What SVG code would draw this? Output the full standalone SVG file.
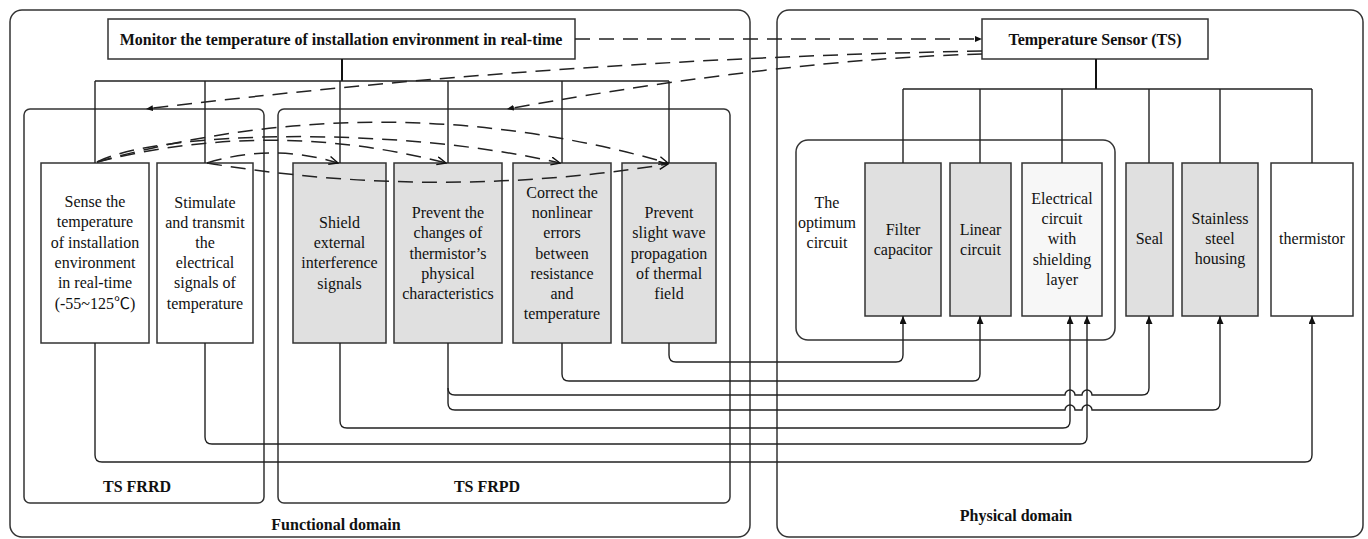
<svg xmlns="http://www.w3.org/2000/svg" width="1368" height="539" viewBox="0 0 1368 539">
  <style>
    .frame { fill: none; stroke: #333; stroke-width: 1.5; }
    .box { stroke: #333; stroke-width: 1.5; }
    .white { fill: #ffffff; }
    .grey { fill: #e0e0e0; }
    .light { fill: #f7f7f7; }
    .txt { font-family: "Liberation Serif", "Times New Roman", "Noto Sans CJK SC", serif; font-size: 16px; fill: #111; text-anchor: middle; }
    .bold { font-weight: bold; }
    .wire { fill: none; stroke: #222; stroke-width: 1.4; }
    .stem { fill: none; stroke: #111; stroke-width: 2; }
    .dash { fill: none; stroke: #222; stroke-width: 1.5; stroke-dasharray: 15 9; }
  </style>
  <defs>
    <marker id="tri" markerUnits="userSpaceOnUse" markerWidth="8" markerHeight="8" refX="8" refY="3.5" orient="auto">
      <path d="M0,0 L8,3.5 L0,7 z" fill="#111"/>
    </marker>
    <marker id="triSmall" markerUnits="userSpaceOnUse" markerWidth="7" markerHeight="6" refX="7" refY="3" orient="auto">
      <path d="M0,0 L7,3 L0,6 z" fill="#111"/>
    </marker>
    <marker id="vee" markerUnits="userSpaceOnUse" markerWidth="11" markerHeight="10" refX="9.5" refY="4.5" orient="auto">
      <path d="M0.5,0.5 L9.5,4.5 L0.5,8.5" fill="none" stroke="#111" stroke-width="1.4"/>
    </marker>
  </defs>

  <rect width="1368" height="539" fill="#ffffff"/>

  <!-- domain frames and FR groups -->
  <g id="functional-domain">
    <rect class="frame" x="10" y="10" width="740" height="527" rx="12"/>
    <text class="txt bold" x="336" y="530">Functional domain</text>
  </g>
  <g id="physical-domain">
    <rect class="frame" x="777" y="10" width="586" height="527" rx="12"/>
    <text class="txt bold" x="1016" y="521">Physical domain</text>
  </g>
  <g id="ts-frrd">
    <rect class="frame" x="24" y="109" width="240" height="394" rx="6"/>
    <text class="txt bold" x="137" y="492">TS FRRD</text>
  </g>
  <g id="ts-frpd">
    <rect class="frame" x="278" y="109" width="452" height="394" rx="6"/>
    <text class="txt bold" x="487" y="492">TS FRPD</text>
  </g>
  <g id="optimum-circuit">
    <rect class="frame" x="796" y="140" width="319" height="200" rx="12"/>
    <text class="txt" x="827"><tspan x="827" y="208">The</tspan><tspan x="827" y="228">optimum</tspan><tspan x="827" y="248">circuit</tspan></text>
  </g>

  <!-- top-level nodes -->
  <g id="monitor">
    <rect class="box white" x="108" y="19" width="467" height="40"/>
    <text class="txt bold" x="341" y="45">Monitor the temperature of installation environment in real-time</text>
  </g>
  <g id="sensor">
    <rect class="box white" x="982" y="19" width="226" height="40"/>
    <text class="txt bold" x="1095" y="45">Temperature Sensor (TS)</text>
  </g>

  <!-- functional requirements -->
  <g id="fr-sense">
    <rect class="box white" x="41" y="163" width="108" height="180"/>
    <text class="txt"><tspan x="95" y="207">Sense the</tspan><tspan x="95" y="227">temperature</tspan><tspan x="95" y="248">of installation</tspan><tspan x="95" y="268">environment</tspan><tspan x="95" y="288">in real-time</tspan><tspan x="95" y="309">(-55~125℃)</tspan></text>
  </g>
  <g id="fr-stimulate">
    <rect class="box white" x="157" y="163" width="96" height="180"/>
    <text class="txt"><tspan x="205" y="208">Stimulate</tspan><tspan x="205" y="228">and transmit</tspan><tspan x="205" y="248">the</tspan><tspan x="205" y="268">electrical</tspan><tspan x="205" y="288">signals of</tspan><tspan x="205" y="309">temperature</tspan></text>
  </g>
  <g id="fr-shield">
    <rect class="box grey" x="293" y="163" width="93" height="180"/>
    <text class="txt"><tspan x="339.5" y="228">Shield</tspan><tspan x="339.5" y="248">external</tspan><tspan x="339.5" y="268">interference</tspan><tspan x="339.5" y="289">signals</tspan></text>
  </g>
  <g id="fr-prevent-changes">
    <rect class="box grey" x="394" y="163" width="108" height="180"/>
    <text class="txt"><tspan x="448" y="218">Prevent the</tspan><tspan x="448" y="238">changes of</tspan><tspan x="448" y="259">thermistor’s</tspan><tspan x="448" y="279">physical</tspan><tspan x="448" y="299">characteristics</tspan></text>
  </g>
  <g id="fr-correct">
    <rect class="box grey" x="513" y="163" width="98" height="180"/>
    <text class="txt"><tspan x="562" y="198">Correct the</tspan><tspan x="562" y="218">nonlinear</tspan><tspan x="562" y="238">errors</tspan><tspan x="562" y="259">between</tspan><tspan x="562" y="279">resistance</tspan><tspan x="562" y="299">and</tspan><tspan x="562" y="319">temperature</tspan></text>
  </g>
  <g id="fr-prevent-wave">
    <rect class="box grey" x="622" y="163" width="94" height="180"/>
    <text class="txt"><tspan x="669" y="218">Prevent</tspan><tspan x="669" y="238">slight wave</tspan><tspan x="669" y="259">propagation</tspan><tspan x="669" y="279">of thermal</tspan><tspan x="669" y="299">field</tspan></text>
  </g>

  <!-- design parameters -->
  <g id="dp-filter">
    <rect class="box grey" x="865" y="163" width="76" height="153"/>
    <text class="txt"><tspan x="903" y="235">Filter</tspan><tspan x="903" y="255">capacitor</tspan></text>
  </g>
  <g id="dp-linear">
    <rect class="box grey" x="950" y="163" width="61" height="153"/>
    <text class="txt"><tspan x="980.5" y="235">Linear</tspan><tspan x="980.5" y="255">circuit</tspan></text>
  </g>
  <g id="dp-shielding">
    <rect class="box light" x="1022" y="163" width="80" height="153"/>
    <text class="txt"><tspan x="1062" y="204">Electrical</tspan><tspan x="1062" y="224">circuit</tspan><tspan x="1062" y="244">with</tspan><tspan x="1062" y="265">shielding</tspan><tspan x="1062" y="285">layer</tspan></text>
  </g>
  <g id="dp-seal">
    <rect class="box grey" x="1126" y="163" width="47" height="153"/>
    <text class="txt" x="1149.5" y="244">Seal</text>
  </g>
  <g id="dp-housing">
    <rect class="box grey" x="1182" y="163" width="76" height="153"/>
    <text class="txt"><tspan x="1220" y="224">Stainless</tspan><tspan x="1220" y="244">steel</tspan><tspan x="1220" y="264">housing</tspan></text>
  </g>
  <g id="dp-thermistor">
    <rect class="box white" x="1271" y="163" width="82" height="153"/>
    <text class="txt" x="1312" y="244">thermistor</text>
  </g>

  <g id="connectors">
    <!-- decomposition trees -->
    <path class="stem" d="M342,59 V81"/>
    <path class="wire" d="M95,81 H669 M95,81 V163 M205,81 V163 M340,81 V163 M448,81 V163 M562,81 V163 M669,81 V163"/>
    <path class="stem" d="M1096,59 V89"/>
    <path class="wire" d="M903,89 H1312 M903,89 V163 M980,89 V163 M1062,89 V163 M1149,89 V163 M1220,89 V163 M1312,89 V163"/>

    <!-- FR to DP mapping -->
    <path class="wire" marker-end="url(#tri)" d="M95,343 V455 Q95,462 102,462 H1305 Q1312,462 1312,455 V316"/>
    <path class="wire" marker-end="url(#tri)" d="M205,343 V437 Q205,444 212,444 H1080 Q1087,444 1087,437 V316"/>
    <path class="wire" marker-end="url(#tri)" d="M340,343 V421 Q340,428 347,428 H1063 Q1070,428 1070,421 V316"/>
    <path class="wire" marker-end="url(#tri)" d="M448,343 V388 Q448,395 455,395 H1065 A5,5 0 0 1 1075,395 H1082 A5,5 0 0 1 1092,395 H1142 Q1149,395 1149,388 V316"/>
    <path class="wire" marker-end="url(#tri)" d="M448,388 V403 Q448,410 455,410 H1065 A5,5 0 0 1 1075,410 H1082 A5,5 0 0 1 1092,410 H1213 Q1220,410 1220,403 V316"/>
    <path class="wire" marker-end="url(#tri)" d="M562,343 V374 Q562,381 569,381 H973 Q980,381 980,374 V316"/>
    <path class="wire" marker-end="url(#tri)" d="M669,343 V355 Q669,362 676,362 H896 Q903,362 903,355 V316"/>

    <!-- dashed relations -->
    <path class="dash" marker-end="url(#triSmall)" d="M575,39 H982"/>
    <path class="dash" marker-end="url(#triSmall)" d="M982,51 Q557,59 146,109"/>
    <path class="dash" marker-end="url(#triSmall)" d="M982,54 Q786,59 507,109"/>
    <path class="dash" marker-end="url(#vee)" d="M97,162 Q382,82 668,163"/>
    <path class="dash" marker-end="url(#vee)" d="M97,162 C160,130 400,126 560,163"/>
    <path class="dash" marker-end="url(#vee)" d="M97,162 Q271,118 446,163"/>
    <path class="dash" marker-end="url(#vee)" d="M207,163 Q272,143 338,163"/>
    <path class="dash" marker-end="url(#vee)" d="M207,163 Q437,201 668,164"/>
  </g>
</svg>
